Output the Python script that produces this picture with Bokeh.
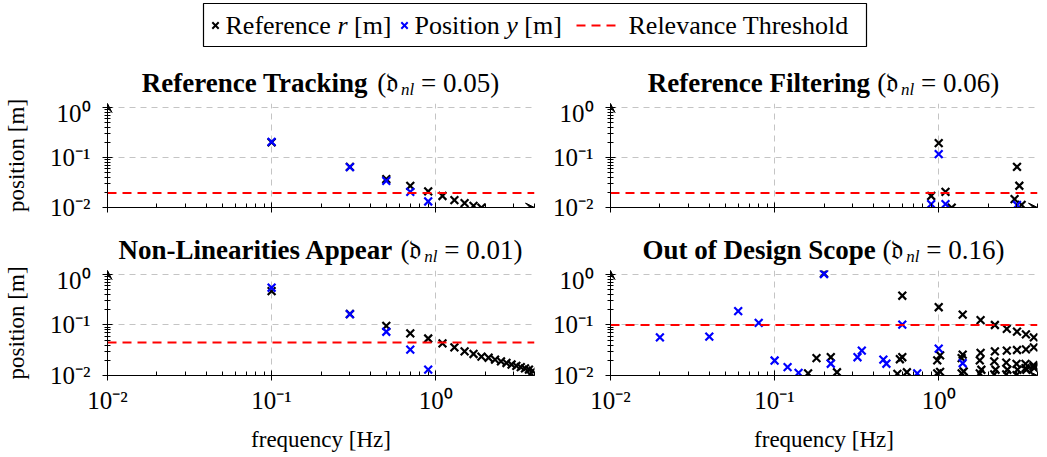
from bokeh.plotting import figure
from bokeh.layouts import column, row
from bokeh.models import FixedTicker, Arrow, VeeHead, Span, Range1d, CustomLabelingPolicy
from bokeh.core.properties import value
from bokeh.embed import file_html
from bokeh.resources import INLINE

# ---------------- data ----------------
x_ticks = [0.01, 0.1, 1]
x_minor = [0.02, 0.03, 0.04, 0.05, 0.06, 0.07, 0.08, 0.09,
           0.2, 0.3, 0.4, 0.5, 0.6, 0.7, 0.8, 0.9, 2, 3, 4]
y_ticks = [0.01, 0.1, 1]
y_minor = [0.02, 0.03, 0.04, 0.05, 0.06, 0.07, 0.08, 0.09,
           0.2, 0.3, 0.4, 0.5, 0.6, 0.7, 0.8, 0.9]
tick_labels = {0.01: "10⁻²", 0.1: "10⁻¹", 1: "10⁰"}

tl_ref_f = [0.1, 0.3, 0.5, 0.7, 0.9, 1.1, 1.3, 1.5, 1.7, 1.9]
tl_ref_v = [0.20, 0.065, 0.037, 0.027, 0.021, 0.017, 0.014, 0.0122, 0.0108, 0.0099]
tl_pos_f = [0.1, 0.3, 0.5, 0.7, 0.9]
tl_pos_v = [0.205, 0.064, 0.034, 0.0206, 0.0132]
tl_thr = 0.0195

tr_ref_f = [0.9, 1.0, 1.1, 1.2, 2.9, 3.0, 3.1, 3.2]
tr_ref_v = [0.017, 0.194, 0.0206, 0.0099, 0.0147, 0.065, 0.0272, 0.0113]
tr_pos_f = [0.9, 1.0, 1.1, 3.0]
tr_pos_v = [0.0117, 0.117, 0.0117, 0.0112]
tr_thr = 0.0195

bl_ref_f = [0.1, 0.3, 0.5, 0.7, 0.9, 1.1, 1.3, 1.5, 1.7, 1.9,
            2.1, 2.3, 2.5, 2.7, 2.9, 3.1, 3.3, 3.5, 3.7, 3.9]
bl_ref_v = [0.47, 0.165, 0.096, 0.068, 0.054, 0.0433, 0.036, 0.0301, 0.0267, 0.0237,
            0.0225, 0.0207, 0.019, 0.0177, 0.0165, 0.0155, 0.0146, 0.0138, 0.0131, 0.0124]
bl_pos_f = [0.1, 0.3, 0.5, 0.7, 0.9]
bl_pos_v = [0.547, 0.164, 0.0735, 0.0325, 0.0131]
bl_thr = 0.045

br_ref_f = [0.16, 0.18, 0.2, 0.22, 0.24, 0.56, 0.58, 0.6, 0.6, 0.64,
            0.98, 0.98, 1.0, 1.02, 1.02,
            1.38, 1.38, 1.4, 1.4, 1.42,
            1.78, 1.78, 1.8, 1.8, 1.82,
            2.18, 2.18, 2.2, 2.2, 2.22,
            2.58, 2.58, 2.6, 2.6, 2.62,
            2.98, 2.98, 3.0, 3.0, 3.02,
            3.38, 3.38, 3.4, 3.4, 3.42,
            3.78, 3.78, 3.8, 3.8, 3.82]
br_ref_v = [0.011, 0.022, 1.05, 0.023, 0.0116, 0.0108, 0.021, 0.38, 0.023, 0.0116,
            0.011, 0.020, 0.225, 0.0118, 0.025,
            0.011, 0.022, 0.16, 0.026, 0.012,
            0.011, 0.020, 0.125, 0.028, 0.013,
            0.0105, 0.019, 0.10, 0.030, 0.013,
            0.0105, 0.018, 0.084, 0.031, 0.013,
            0.0102, 0.017, 0.074, 0.032, 0.013,
            0.014, 0.017, 0.065, 0.033, 0.013,
            0.015, 0.016, 0.057, 0.036, 0.014]
br_pos_f = [0.02, 0.04, 0.06, 0.08, 0.1, 0.12, 0.14, 0.2, 0.22, 0.32, 0.34,
            0.46, 0.48, 0.6, 0.74, 1.0, 1.4]
br_pos_v = [0.057, 0.059, 0.188, 0.110, 0.0198, 0.0146, 0.0113, 1.02, 0.0171, 0.023, 0.031,
            0.0207, 0.0171, 0.102, 0.011, 0.034, 0.0175]
br_thr = 0.1

titles = [("Reference Tracking", "0.05"), ("Reference Filtering", "0.06"),
          ("Non-Linearities Appear", "0.01"), ("Out of Design Scope", "0.16")]
legend_labels = [("Reference ", "r", " [m]"), ("Position ", "y", " [m]"), "Relevance Threshold"]

# ---------------- styling helpers ----------------
SERIF = "Liberation Serif"
X_START, X_END = 0.01, 4.0
Y_START, Y_END = 0.01, 1.2

W_REG = {' ': 250, '(': 333, ')': 333, '.': 250, '=': 564, '[': 333, ']': 333,
         '0': 500, '1': 500, '2': 500, '3': 500, '4': 500, '5': 500, '6': 500, '7': 500, '8': 500, '9': 500,
         'P': 556, 'R': 667, 'T': 611, 'a': 444, 'c': 444, 'd': 500, 'e': 444, 'f': 333, 'h': 500,
         'i': 278, 'l': 278, 'm': 778, 'n': 500, 'o': 500, 'r': 333, 's': 389, 't': 278, 'v': 500, 'y': 500}
W_BOLD = {' ': 250, '-': 333, 'A': 722, 'D': 722, 'F': 611, 'L': 667, 'N': 722, 'O': 778, 'R': 722,
          'S': 556, 'T': 667, 'a': 500, 'c': 444, 'e': 444, 'f': 333, 'g': 500, 'i': 278, 'k': 556,
          'l': 278, 'n': 556, 'o': 500, 'p': 556, 'r': 444, 's': 389, 't': 333, 'u': 556}
W_IT = {'n': 500, 'l': 278, 'r': 389, 'y': 444}


def tw(s, table, size):
    return sum(table.get(c, 500) for c in s) * size / 1000.0


def put_text(p, x, base_y, s, size, style="normal"):
    """Draw text whose baseline lies at base_y; a leading space becomes an offset."""
    table = W_BOLD if style == "bold" else (W_IT if style == "italic" else W_REG)
    full = tw(s, table, size)
    stripped = s.lstrip(" ")
    x0 = x + tw(s[:len(s) - len(stripped)], table, size)
    p.text([x0], [base_y + 0.33 * size], text=[stripped.rstrip(" ")], text_font=value(SERIF),
           text_font_size=f"{size}px", text_font_style=style, text_color="black",
           text_baseline="middle", text_align="left")
    return x + full


def draw_title(p, cx, base_y, bold, num):
    fs = 27.0
    sub_fs = 17.0
    b = bold + " "
    tail = " = " + num + ")"
    total = (tw(b, W_BOLD, fs) + tw("(", W_REG, fs) + 0.55 * fs +
             tw("nl", W_IT, sub_fs) + tw(tail, W_REG, fs))
    x = cx - total / 2.0
    x = put_text(p, x, base_y, b, fs, "bold")
    put_text(p, x, base_y, "(𝔡", fs)
    x += tw("(", W_REG, fs) + 0.55 * fs
    x = put_text(p, x, base_y - 3.5, "nl", sub_fs, "italic")
    put_text(p, x, base_y, tail, fs)


def make_strip(width, height):
    s = figure(width=width, height=height, x_range=Range1d(0, width), y_range=Range1d(0, height),
               output_backend="svg", toolbar_location=None, min_border=0)
    s.axis.visible = False
    s.grid.visible = False
    s.outline_line_color = None
    return s


def make_panel(width, height, mb_left, mb_right, mb_top, mb_bottom, show_xlabels, show_ylabel,
               ref_f, ref_v, pos_f, pos_v, thr):
    p = figure(width=width, height=height, x_axis_type="log", y_axis_type="log",
               x_range=Range1d(X_START, X_END), y_range=Range1d(Y_START, Y_END),
               output_backend="svg", toolbar_location=None,
               min_border_left=mb_left, min_border_right=mb_right,
               min_border_top=mb_top, min_border_bottom=mb_bottom)
    p.outline_line_color = None
    xt = FixedTicker(ticks=x_ticks, minor_ticks=x_minor)
    yt = FixedTicker(ticks=y_ticks, minor_ticks=y_minor)
    p.xaxis.ticker = xt
    p.yaxis.ticker = yt
    p.xgrid.ticker = xt
    p.ygrid.ticker = yt
    for g in (p.xgrid, p.ygrid):
        g.grid_line_color = "#c4c4c4"
        g.grid_line_dash = "6 5"
        g.grid_line_width = 1
    for ax in (p.xaxis, p.yaxis):
        ax.major_label_overrides = tick_labels
        ax.axis_line_color = "black"
        ax.major_tick_line_color = "black"
        ax.minor_tick_line_color = "black"
        ax.major_tick_in = 5
        ax.major_tick_out = 5
        ax.major_label_text_font = SERIF
        ax.major_label_text_font_size = "25px"
        ax.major_label_text_color = "black"
        ax.axis_label_text_font = SERIF
        ax.axis_label_text_font_size = "23px"
        ax.axis_label_text_font_style = "normal"
        ax.axis_label_text_color = "black"
    p.xaxis.minor_tick_in = 4
    p.xaxis.minor_tick_out = 0
    p.yaxis.minor_tick_in = 3
    p.yaxis.minor_tick_out = 3
    p.xaxis.major_label_standoff = 6
    p.yaxis.major_label_standoff = 12
    if show_xlabels:
        p.xaxis.axis_label = "frequency [Hz]"
        p.xaxis.axis_label_standoff = 10
    else:
        p.xaxis.major_label_text_font_size = "1px"
        p.xaxis.major_label_policy = CustomLabelingPolicy(code="if (false) { yield 0 }")
    if show_ylabel:
        p.yaxis.axis_label = "position [m]"
        p.yaxis.axis_label_standoff = 18

    p.add_layout(Span(location=thr, dimension="width", line_color="#ff0000",
                      line_dash="9 6", line_width=2))
    p.scatter(ref_f, ref_v, marker="x", size=11, line_width=2.2, color="black")
    p.scatter(pos_f, pos_v, marker="x", size=11, line_width=2.2, color="#0000ff")

    p.add_layout(Arrow(end=VeeHead(size=9, fill_color="black", line_color="black", line_width=1),
                       x_start=X_START, y_start=Y_START, x_end=X_END, y_end=Y_START,
                       line_color="black", line_width=1))
    p.add_layout(Arrow(end=VeeHead(size=9, fill_color="black", line_color="black", line_width=1),
                       x_start=X_START, y_start=Y_START, x_end=X_START, y_end=Y_END,
                       line_color="black", line_width=1))
    return p


LEFT_W, RIGHT_W = 540, 506

# header: legend + titles of the upper panels
HEAD_H = 99
head = make_strip(LEFT_W + RIGHT_W, HEAD_H)
head.quad(left=[203], right=[866], bottom=[HEAD_H - 46], top=[HEAD_H - 3], fill_color="white",
          line_color="black", line_width=1.2)
yc = HEAD_H - 25
head.scatter([215], [yc], marker="x", size=9, line_width=2, color="black")
head.scatter([404], [yc], marker="x", size=9, line_width=2, color="#0000ff")
head.line([576, 616], [yc, yc], line_color="#ff0000", line_dash="9 6", line_width=2)
LFS = 26.0
base = HEAD_H - 33.5
x = 225
for part, style in zip(legend_labels[0], ["normal", "italic", "normal"]):
    x = put_text(head, x, base, part, LFS, style)
x = 414
for part, style in zip(legend_labels[1], ["normal", "italic", "normal"]):
    x = put_text(head, x, base, part, LFS, style)
put_text(head, 628, base, legend_labels[2], LFS)
draw_title(head, 320, HEAD_H - 91, *titles[0])
draw_title(head, 823, HEAD_H - 91, *titles[1])

tl = make_panel(LEFT_W, 125, 107, 6, 4, 17, False, True, tl_ref_f, tl_ref_v, tl_pos_f, tl_pos_v, tl_thr)
tr = make_panel(RIGHT_W, 125, 70, 9, 4, 17, False, False, tr_ref_f, tr_ref_v, tr_pos_f, tr_pos_v, tr_thr)

STRIP_H = 42
mid = make_strip(LEFT_W + RIGHT_W, STRIP_H)
draw_title(mid, 320, 7.5, *titles[2])
draw_title(mid, 823, 7.5, *titles[3])

bl = make_panel(LEFT_W, 190, 107, 6, 4, 81, True, True, bl_ref_f, bl_ref_v, bl_pos_f, bl_pos_v, bl_thr)
br = make_panel(RIGHT_W, 190, 70, 9, 4, 81, True, False, br_ref_f, br_ref_v, br_pos_f, br_pos_v, br_thr)

layout = column(head, row(tl, tr), mid, row(bl, br))
open("out.html", "w").write(file_html(layout, INLINE))
